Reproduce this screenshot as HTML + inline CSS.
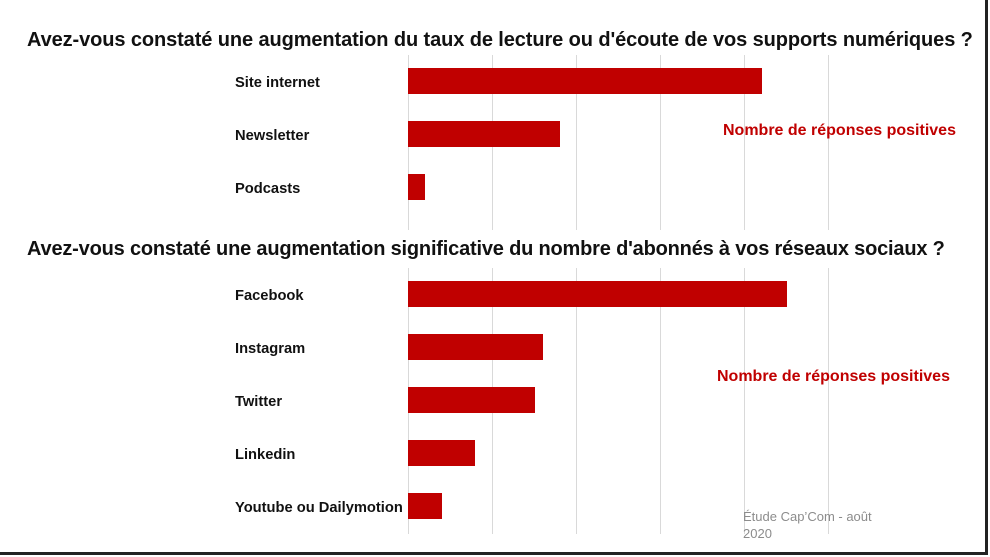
<!DOCTYPE html>
<html><head><meta charset="utf-8"><style>
body{margin:0;width:990px;height:557px;background:#fff;position:relative;overflow:hidden;font-family:"Liberation Sans",sans-serif}
.frame{position:absolute;left:0;top:0;width:985px;height:552px;border-right:3px solid #222;border-bottom:3px solid #222}
.g{position:absolute;width:1px;background:#d9d9d9}
.b{position:absolute;left:408px;height:26px;background:#c00000}
.l{position:absolute;left:235px;font-size:14.7px;font-weight:bold;color:#111;line-height:16px}
.t{position:absolute;left:27px;font-size:20px;font-weight:bold;color:#111;white-space:nowrap;letter-spacing:-0.1px}
.r{position:absolute;font-size:16px;font-weight:bold;color:#c00000;white-space:nowrap}
</style></head><body>
<div class="frame"></div>
<div class="t" style="top:29px">Avez-vous constaté une augmentation du taux de lecture ou d'écoute de vos supports numériques ?</div>
<div class="t" style="top:238px;letter-spacing:-0.19px">Avez-vous constaté une augmentation significative du nombre d'abonnés à vos réseaux sociaux ?</div>
<div class="g" style="left:408px;top:55px;height:175px"></div>
<div class="g" style="left:492px;top:55px;height:175px"></div>
<div class="g" style="left:576px;top:55px;height:175px"></div>
<div class="g" style="left:660px;top:55px;height:175px"></div>
<div class="g" style="left:744px;top:55px;height:175px"></div>
<div class="g" style="left:828px;top:55px;height:175px"></div>
<div class="g" style="left:408px;top:268px;height:266px"></div>
<div class="g" style="left:492px;top:268px;height:266px"></div>
<div class="g" style="left:576px;top:268px;height:266px"></div>
<div class="g" style="left:660px;top:268px;height:266px"></div>
<div class="g" style="left:744px;top:268px;height:266px"></div>
<div class="g" style="left:828px;top:268px;height:266px"></div>
<div class="b" style="top:68px;width:354px"></div>
<div class="b" style="top:121px;width:152px"></div>
<div class="b" style="top:174px;width:17px"></div>
<div class="b" style="top:281px;width:379px"></div>
<div class="b" style="top:334px;width:135px"></div>
<div class="b" style="top:387px;width:127px"></div>
<div class="b" style="top:440px;width:67px"></div>
<div class="b" style="top:493px;width:34px"></div>
<div class="l" style="top:75px">Site internet</div>
<div class="l" style="top:128px">Newsletter</div>
<div class="l" style="top:181px">Podcasts</div>
<div class="l" style="top:288px">Facebook</div>
<div class="l" style="top:341px">Instagram</div>
<div class="l" style="top:394px">Twitter</div>
<div class="l" style="top:447px">Linkedin</div>
<div class="l" style="top:500px">Youtube ou Dailymotion</div>
<div class="r" style="left:723px;top:122px">Nombre de réponses positives</div>
<div class="r" style="left:717px;top:368px">Nombre de réponses positives</div>
<div style="position:absolute;left:743px;top:508px;font-size:13px;color:#8c8c8c;line-height:17px">Étude Cap’Com - août<br>2020</div>
</body></html>
